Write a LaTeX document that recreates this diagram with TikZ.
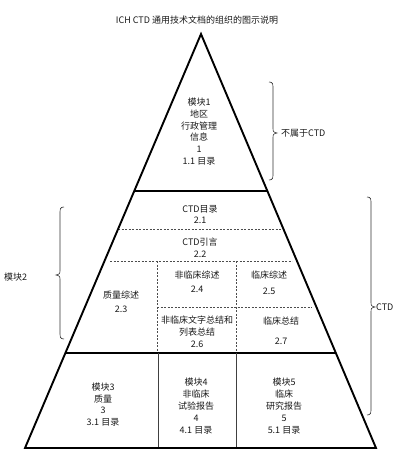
\documentclass[tikz,border=0pt]{standalone}
\usepackage{fontspec}
\setmainfont{Noto Sans CJK SC}
\usetikzlibrary{calc}
\tikzset{
  lbl/.style={align=center, inner sep=0pt, font=\fontsize{9}{11.8}\selectfont, text=black!90},
  thickline/.style={line width=1.9pt, line join=miter},
  midline/.style={line width=1.4pt},
  thinline/.style={line width=0.7pt, black!75},
  dashline/.style={line width=0.7pt, black!70, dash pattern=on 2.2pt off 1.3pt},
  bracestyle/.style={line width=0.6pt, black!80}
}
\newcommand{\rbr}[4]{% x, top, bottom, tip y ; tip to the right
  \draw[bracestyle] (#1-4,#2) .. controls (#1,#2) and (#1,#2+2) .. (#1,#2+7) -- (#1,#4-6)
   .. controls (#1,#4-1) .. (#1+4,#4) .. controls (#1,#4+1) .. (#1,#4+6) -- (#1,#3-7)
   .. controls (#1,#3-2) and (#1,#3) .. (#1-4,#3);}
\newcommand{\lbr}[4]{% x, top, bottom, tip y ; tip to the left
  \draw[bracestyle] (#1+4,#2) .. controls (#1,#2) and (#1,#2+2) .. (#1,#2+7) -- (#1,#4-6)
   .. controls (#1,#4-1) .. (#1-4,#4) .. controls (#1,#4+1) .. (#1,#4+6) -- (#1,#3-7)
   .. controls (#1,#3-2) and (#1,#3) .. (#1+4,#3);}
\begin{document}
\begin{tikzpicture}[x=1pt,y=-1pt]
\useasboundingbox (0,0) rectangle (402,473);
% triangle corners
\coordinate (A) at (201,34);
\coordinate (BL) at (25,448);
\coordinate (BR) at (376,448);
% edge points
\coordinate (L1) at ($(A)!{(191-34)/414}!(BL)$);
\coordinate (R1) at ($(A)!{(191-34)/414}!(BR)$);
\coordinate (L2) at ($(A)!{(229-34)/414}!(BL)$);
\coordinate (R2) at ($(A)!{(229-34)/414}!(BR)$);
\coordinate (L5) at ($(A)!{(353-34)/414}!(BL)$);
\coordinate (R5) at ($(A)!{(353-34)/414}!(BR)$);
% title
\node[lbl] (title) at (197,20) {ICH CTD 通用技术文档的组织的图示说明};
% separators
\draw[midline] (L1) -- (R1);
\draw[dashline] (L2) -- (R2);
\draw[dashline] (110,261) -- (292,261);
\draw[dashline] (157,261) -- (157,353);
\draw[dashline] (236,261) -- (236,353);
\draw[dashline] (157,307.5) -- (312,307.5);
\draw[thickline] (L5) -- (R5);
\draw[thinline] (158,353) -- (158,448);
\draw[thinline] (236,353) -- (236,448);
% outline
\draw[thickline] (A) -- (BR) -- (BL) -- cycle;
% texts
\node[lbl] (m1) at (199,131.5) {模块1\\地区\\行政管理\\信息\\1\\1.1 目录};
\node[lbl] (t21) at (200,214.5) {CTD目录\\2.1};
\node[lbl] (t22) at (200,247.5) {CTD引言\\2.2};
\node[lbl] (t23) at (121,302) {质量综述\\[2pt]2.3};
\node[lbl] (t24) at (197,281.5) {非临床综述\\[2pt]2.4};
\node[lbl] (t25) at (269,283) {临床综述\\[4pt]2.5};
\node[lbl] (t26) at (197,332) {非临床文字总结和\\列表总结\\2.6};
\node[lbl] (t27) at (281,331) {临床总结\\[8pt]2.7};
\node[lbl] (m3) at (103,404.5) {模块3\\质量\\3\\3.1 目录};
\node[lbl] (m4) at (196,406) {模块4\\非临床\\试验报告\\4\\4.1 目录};
\node[lbl] (m5) at (284,406) {模块5\\临床\\研究报告\\5\\5.1 目录};
% braces and labels
\rbr{273}{82}{180}{133}
\node[lbl, anchor=west] (notctd) at (281,133) {不属于CTD};
\lbr{60}{207}{339}{275}
\node[lbl, anchor=west] (mod2) at (4,277) {模块2};
\rbr{371}{197}{415}{307}
\node[lbl, anchor=west] (ctd) at (376,307) {CTD};
\end{tikzpicture}
\end{document}
